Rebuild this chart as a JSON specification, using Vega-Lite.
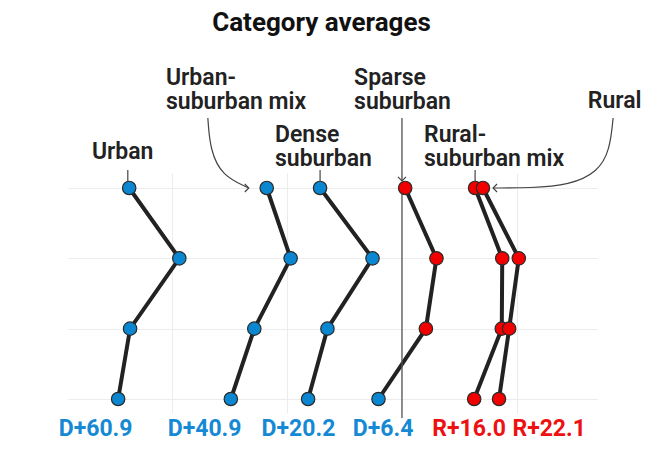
{
  "$schema": "https://vega.github.io/schema/vega-lite/v6.json",
  "autosize": {"type": "none"},
  "width": 529,
  "height": 240,
  "padding": {"left": 68, "top": 173, "right": 69, "bottom": 50},
  "background": "white",
  "title": {"text": "Category averages", "font": "Roboto", "fontSize": 26, "fontWeight": "bold", "color": "#111", "anchor": "middle", "frame": "group", "offset": 31, "dx": -11},
  "config": {
    "view": {"stroke": null},
    "axis": {"grid": true, "gridColor": "#ececec", "gridWidth": 1, "labels": false, "ticks": false, "domain": false}
  },
  "datasets": {
    "series": [
      {"category": "Urban", "row": 1, "margin": -59.3},
      {"category": "Urban", "row": 2, "margin": -48.4},
      {"category": "Urban", "row": 3, "margin": -59.1},
      {"category": "Urban", "row": 4, "margin": -61.7},
      {"category": "Urban-suburban mix", "row": 1, "margin": -29.4},
      {"category": "Urban-suburban mix", "row": 2, "margin": -24.2},
      {"category": "Urban-suburban mix", "row": 3, "margin": -32.1},
      {"category": "Urban-suburban mix", "row": 4, "margin": -37.2},
      {"category": "Dense suburban", "row": 1, "margin": -17.8},
      {"category": "Dense suburban", "row": 2, "margin": -6.4},
      {"category": "Dense suburban", "row": 3, "margin": -16.2},
      {"category": "Dense suburban", "row": 4, "margin": -20.4},
      {"category": "Sparse suburban", "row": 1, "margin": 0.7},
      {"category": "Sparse suburban", "row": 2, "margin": 7.5},
      {"category": "Sparse suburban", "row": 3, "margin": 5.2},
      {"category": "Sparse suburban", "row": 4, "margin": -5.1},
      {"category": "Rural-suburban mix", "row": 1, "margin": 15.9},
      {"category": "Rural-suburban mix", "row": 2, "margin": 21.8},
      {"category": "Rural-suburban mix", "row": 3, "margin": 21.7},
      {"category": "Rural-suburban mix", "row": 4, "margin": 15.7},
      {"category": "Rural", "row": 1, "margin": 17.6},
      {"category": "Rural", "row": 2, "margin": 25.4},
      {"category": "Rural", "row": 3, "margin": 23.3},
      {"category": "Rural", "row": 4, "margin": 21.1}
    ],
    "averages": [
      {"category": "Urban", "text": "D+60.9", "party": "D", "pos": -66.6},
      {"category": "Urban-suburban mix", "text": "D+40.9", "party": "D", "pos": -42.9},
      {"category": "Dense suburban", "text": "D+20.2", "party": "D", "pos": -22.5},
      {"category": "Sparse suburban", "text": "D+6.4", "party": "D", "pos": -4.1},
      {"category": "Rural-suburban mix", "text": "R+16.0", "party": "R", "pos": 14.6},
      {"category": "Rural", "text": "R+22.1", "party": "R", "pos": 32.0}
    ],
    "names": [
      {"text": "Urban", "x": -67.4, "y": 0.488},
      {"text": "Urban-\nsuburban mix", "x": -51.3, "y": -0.564},
      {"text": "Dense\nsuburban", "x": -27.6, "y": 0.246},
      {"text": "Sparse\nsuburban", "x": -10.4, "y": -0.564},
      {"text": "Rural-\nsuburban mix", "x": 4.8, "y": 0.246},
      {"text": "Rural", "x": 40.4, "y": -0.237}
    ],
    "leaders": [
      {"id": "urban", "i": 1, "x": -59.6, "y": 0.744},
      {"id": "urban", "i": 2, "x": -59.6, "y": 0.9},
      {"id": "dense", "i": 1, "x": -17.8, "y": 0.744},
      {"id": "dense", "i": 2, "x": -17.8, "y": 0.9},
      {"id": "rsmix", "i": 1, "x": 15.9, "y": 0.744},
      {"id": "rsmix", "i": 2, "x": 15.9, "y": 0.9},
      {"id": "sparse", "i": 1, "x": 0, "y": 0.005},
      {"id": "sparse", "i": 2, "x": 0, "y": 0.9},
      {"id": "usmix", "i": 1, "x": -42.2, "y": 0.005},
      {"id": "usmix", "i": 2, "x": -41.7, "y": 0.46},
      {"id": "usmix", "i": 3, "x": -39.1, "y": 0.829},
      {"id": "usmix", "i": 4, "x": -33.3, "y": 1.0},
      {"id": "rural", "i": 1, "x": 45.9, "y": 0.005},
      {"id": "rural", "i": 2, "x": 45.2, "y": 0.46},
      {"id": "rural", "i": 3, "x": 42.6, "y": 0.772},
      {"id": "rural", "i": 4, "x": 36.5, "y": 0.957},
      {"id": "rural", "i": 5, "x": 27.8, "y": 1.0},
      {"id": "rural", "i": 6, "x": 19.8, "y": 1.0}
    ]
  },
  "layer": [
    {
      "data": {"name": "series"},
      "mark": {"type": "line", "color": "#222", "strokeWidth": 4, "clip": false},
      "encoding": {
        "x": {"field": "margin", "type": "quantitative", "title": null, "axis": {"values": [-50, -25, 0, 25]}, "scale": {"domain": [-72.6, 42.4], "nice": false, "zero": false}},
        "y": {"field": "row", "type": "quantitative", "title": null, "axis": {"values": [1, 2, 3, 4]}, "scale": {"domain": [0.787, 4.199], "reverse": true, "nice": false, "zero": false}},
        "detail": {"field": "category"},
        "order": {"field": "row"}
      }
    },
    {
      "data": {"values": [{}]},
      "mark": {"type": "rule", "color": "#555", "strokeWidth": 1.3},
      "encoding": {
        "x": {"datum": 0, "type": "quantitative"},
        "y": {"datum": 1, "type": "quantitative"},
        "y2": {"datum": 4.27}
      }
    },
    {
      "data": {"name": "series"},
      "mark": {"type": "point", "filled": true, "size": 180, "opacity": 1, "stroke": "#2a2a2a", "strokeWidth": 1.2, "clip": false},
      "encoding": {
        "x": {"field": "margin", "type": "quantitative", "title": null},
        "y": {"field": "row", "type": "quantitative", "title": null},
        "fill": {"condition": {"test": "datum.margin > 0", "value": "#f20000"}, "value": "#0b87d2"}
      }
    },
    {
      "data": {"name": "leaders"},
      "mark": {"type": "line", "color": "#444", "strokeWidth": 1.2, "interpolate": "basis", "clip": false},
      "encoding": {
        "x": {"field": "x", "type": "quantitative", "title": null},
        "y": {"field": "y", "type": "quantitative", "title": null},
        "detail": {"field": "id"},
        "order": {"field": "i"}
      }
    },
    {
      "data": {"values": [{}]},
      "mark": {"type": "point", "shape": "M-1,-1L0,0L-1,1", "filled": false, "size": 64, "stroke": "#444", "strokeWidth": 1.2, "opacity": 1, "clip": false},
      "encoding": {"x": {"datum": -33.3, "type": "quantitative"}, "y": {"datum": 1.0, "type": "quantitative"}}
    },
    {
      "data": {"values": [{}]},
      "mark": {"type": "point", "shape": "M-1,-1L0,0L1,-1", "filled": false, "size": 64, "stroke": "#444", "strokeWidth": 1.2, "opacity": 1, "clip": false},
      "encoding": {"x": {"datum": 0, "type": "quantitative"}, "y": {"datum": 0.9, "type": "quantitative"}}
    },
    {
      "data": {"values": [{}]},
      "mark": {"type": "point", "shape": "M1,-1L0,0L1,1", "filled": false, "size": 64, "stroke": "#444", "strokeWidth": 1.2, "opacity": 1, "clip": false},
      "encoding": {"x": {"datum": 19.8, "type": "quantitative"}, "y": {"datum": 1.0, "type": "quantitative"}}
    },
    {
      "data": {"name": "names"},
      "mark": {"type": "text", "align": "left", "baseline": "middle", "lineBreak": "\n", "lineHeight": 24, "font": "Roboto", "fontSize": 23, "fontWeight": 600, "color": "#222", "clip": false},
      "encoding": {
        "x": {"field": "x", "type": "quantitative", "title": null},
        "y": {"field": "y", "type": "quantitative", "title": null},
        "text": {"field": "text"}
      }
    },
    {
      "data": {"name": "averages"},
      "mark": {"type": "text", "align": "center", "baseline": "middle", "font": "Roboto", "fontSize": 23, "fontWeight": "bold", "clip": false},
      "encoding": {
        "x": {"field": "pos", "type": "quantitative", "title": null},
        "y": {"datum": 4.43, "type": "quantitative"},
        "text": {"field": "text"},
        "color": {"condition": {"test": "datum.party === 'R'", "value": "#ee1111"}, "value": "#1689d4"}
      }
    }
  ]
}
